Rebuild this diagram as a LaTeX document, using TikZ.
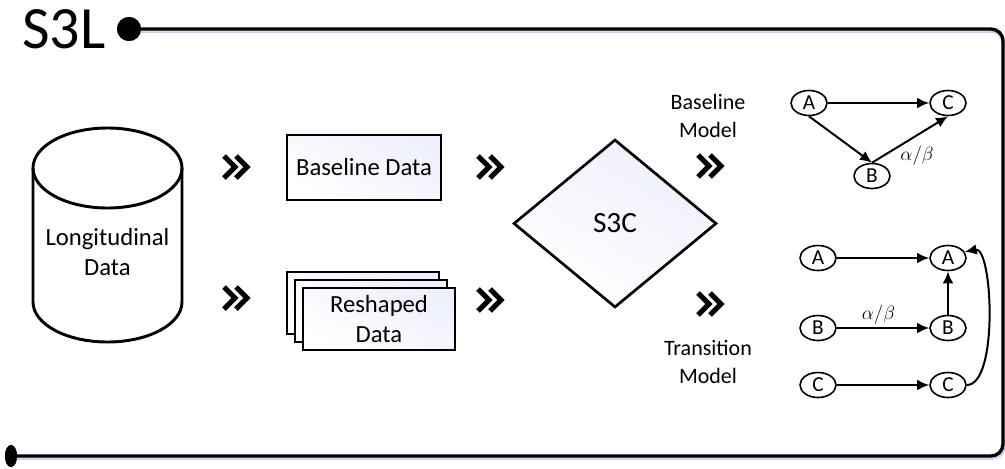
\documentclass[tikz,border=0pt]{standalone}
\usepackage{fontspec}
\setmainfont{Carlito}
\usepackage{tikz}
\usetikzlibrary{shapes.geometric}
\usetikzlibrary{positioning}
\usetikzlibrary{calc}
\usetikzlibrary{arrows.meta}
\definecolor{myfill}{RGB}{238,240,251}
\definecolor{myglow}{RGB}{205,214,234}

\begin{document}
\begin{tikzpicture}
			[
				x = 0.75pt, y = -0.75pt,
				myframe/.style = {line width = 2.5pt, rounded corners = 9pt},
				myshadow/.style = {line width = 3pt, rounded corners = 9pt, draw = myglow},
				mytitle/.style = {inner sep = 0pt, font = \fontsize{45}{50}\selectfont},
				mydot/.style = {circle, fill, inner sep = 0pt, minimum size = 18pt},
				mybotdot/.style = {ellipse, fill, inner sep = 0pt, minimum width = 9pt, minimum height = 16.5pt},
				mycyl/.style = {line width = 2.2pt},
				myblock/.style = {draw, rectangle, line width = 1.9pt, left color = myfill, right color = white, shading angle = -30, align = center, font = \fontsize{18.5}{22.5}\selectfont},
				mybase/.style = {myblock, minimum width = 115.5pt, minimum height = 48.75pt},
				mystack/.style = {myblock, minimum width = 114pt, minimum height = 46.5pt},
				mydecision/.style = {draw, diamond, aspect = 1, line width = 2pt, inner sep = 0pt, minimum width = 152.25pt, minimum height = 126pt, left color = myfill, right color = white, shading angle = -30, font = \fontsize{22}{26}\selectfont},
				myvariable/.style = {align = center, font = \fontsize{18.5}{22.5}\selectfont},
				mylabel/.style = {align = center, font = \fontsize{16.5}{21}\selectfont},
				mystate/.style = {draw, ellipse, line width = 1.2pt, inner sep = 0pt, minimum width = 27pt, minimum height = 18.75pt, font = \fontsize{16}{18}\selectfont},
				mygreek/.style = {inner sep = 1pt, font = \fontsize{14}{16}\selectfont},
				mychevron/.style = {line width = 3.75pt, line join = miter},
				myarrow/.style = {line width = 1.5pt, -{Latex[length = 9pt, width = 8pt]}}
			]
			\useasboundingbox (0,0) rectangle (1005,468);
			%
			\node (title) [mytitle] at (64,29) {S3L};
			\node (topdot) [mydot] at (129,29) {};
			\node (botdot) [mybotdot] at (11,456) {};
			\coordinate (topright) at (1003,29);
			\coordinate (botright) at (1003,456);
			\draw [myshadow, transform canvas = {xshift = 0.6pt, yshift = -1.6pt}] (topdot.center) -- (topright) -- (botright) -- (botdot.center);
			\draw [myframe] (topdot.center) -- (topright) -- (botright) -- (botdot.center);
			\node [mydot] at (topdot) {};
			\node [mybotdot] at (botdot) {};
			%
			\draw [mycyl] (33,168) -- (33,302) arc [start angle = 180, end angle = 360, x radius = 55.875pt, y radius = 30pt] -- (182,168);
			\draw [mycyl] (107.5,168) ellipse [x radius = 55.875pt, y radius = 30pt];
			\node (longdata) [myvariable] at (107.5,252) {Longitudinal\\Data};
			%
			\node (basedata) [mybase] at (364,167.5) {Baseline Data};
			\node (reshapedback) [mystack] at (363,303) {};
			\node (reshapedmid) [mystack] at (371,311) {};
			\node (reshaped) [mystack] at (379,319) {Reshaped\\Data};
			%
			\node (sthreec) [mydecision] at (615,223.5) {S3C};
			%
			\coordinate (chevbase) at (237,167);
			\coordinate (chevreshape) at (237,298);
			\coordinate (chevbasetwo) at (491,167);
			\coordinate (chevreshapetwo) at (491,300);
			\coordinate (chevmodel) at (711,166);
			\coordinate (chevtrans) at (711,304);
			\foreach \c in {chevbase, chevreshape, chevbasetwo, chevreshapetwo, chevmodel, chevtrans}
				\draw [mychevron, shift = {(\c)}] (-13,-11) -- (-2,0) -- (-13,11) (-1,-11) -- (10,0) -- (-1,11);
			%
			\node (basemodel) [mylabel] at (708,116) {Baseline\\Model};
			\node (transmodel) [mylabel] at (708,362) {Transition\\Model};
			%
			\node (aone) [mystate] at (809,103) {A};
			\node (cone) [mystate] at (948,103) {C};
			\node (bone) [mystate] at (872,176) {B};
			\draw [myarrow] (aone) -- (cone);
			\draw [myarrow] (aone.south) -- (bone.north);
			\draw [myarrow] (bone.north) -- (cone.south);
			\node (abone) [mygreek] at (917,156) {$\alpha/\beta$};
			%
			\node (atwoleft) [mystate] at (818,258) {A};
			\node (atworight) [mystate] at (948,258) {A};
			\node (btwoleft) [mystate] at (818,328) {B};
			\node (btworight) [mystate] at (948,328) {B};
			\node (ctwoleft) [mystate] at (818,385) {C};
			\node (ctworight) [mystate] at (948,385) {C};
			\draw [myarrow] (atwoleft) -- (atworight);
			\draw [myarrow] (btwoleft) -- (btworight) node (abtwo) [mygreek, pos = 0.45, above = 1pt] {$\alpha/\beta$};
			\draw [myarrow] (btworight) -- (atworight);
			\draw [myarrow] (ctwoleft) -- (ctworight);
			\draw [myarrow] (ctworight.east) .. controls +(32,0) and +(28,-6) .. (atworight.20);
			%
		\end{tikzpicture}
\end{document}
